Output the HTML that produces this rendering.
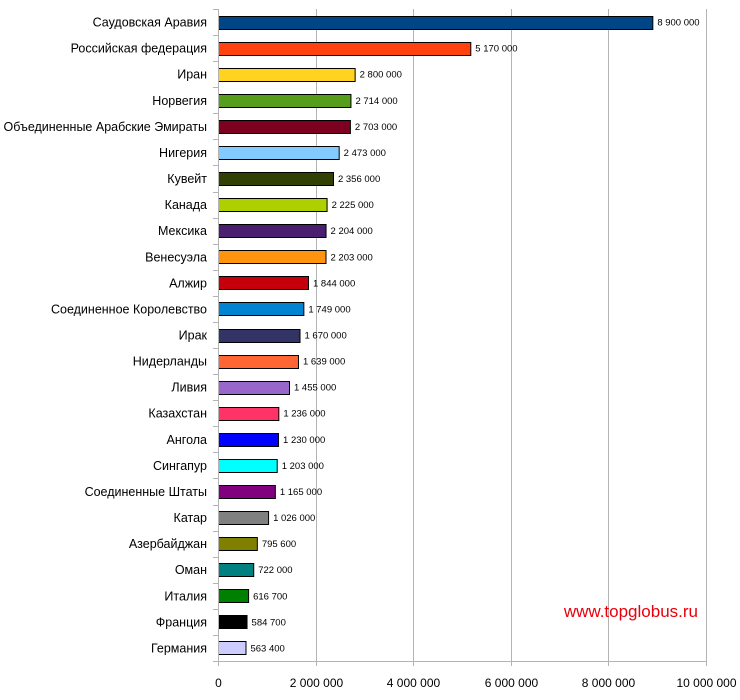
<!DOCTYPE html>
<html><head><meta charset="utf-8"><style>
body{margin:0;background:#fff}
svg{display:block;font-family:"Liberation Sans",Arial,sans-serif}
</style></head><body>
<svg id="chart" width="740" height="700" viewBox="0 0 740 700" xmlns="http://www.w3.org/2000/svg">
<g id="grid"></g>
<g id="bars"></g>
<g id="axes"></g>
<text x="698" y="617" text-anchor="end" font-size="17" fill="#e8000b">www.topglobus.ru</text>
</svg>
<script>
const categories = ["Саудовская Аравия","Российская федерация","Иран","Норвегия","Объединенные Арабские Эмираты","Нигерия","Кувейт","Канада","Мексика","Венесуэла","Алжир","Соединенное Королевство","Ирак","Нидерланды","Ливия","Казахстан","Ангола","Сингапур","Соединенные Штаты","Катар","Азербайджан","Оман","Италия","Франция","Германия"];
const values = [8900000,5170000,2800000,2714000,2703000,2473000,2356000,2225000,2204000,2203000,1844000,1749000,1670000,1639000,1455000,1236000,1230000,1203000,1165000,1026000,795600,722000,616700,584700,563400];
const valueLabels = ["8 900 000","5 170 000","2 800 000","2 714 000","2 703 000","2 473 000","2 356 000","2 225 000","2 204 000","2 203 000","1 844 000","1 749 000","1 670 000","1 639 000","1 455 000","1 236 000","1 230 000","1 203 000","1 165 000","1 026 000","795 600","722 000","616 700","584 700","563 400"];
const colors = ["#004586","#ff420e","#ffd320","#579d1c","#7e0021","#83caff","#314004","#aecf00","#4b1f6f","#ff950e","#c5000b","#0084d1","#333366","#ff6633","#9966cc","#ff3366","#0000ff","#00ffff","#800080","#808080","#808000","#008080","#008000","#000000","#ccccff"];
const ticks = [0,2000000,4000000,6000000,8000000,10000000];
const tickLabels = ["0","2 000 000","4 000 000","6 000 000","8 000 000","10 000 000"];

const NS="http://www.w3.org/2000/svg";
const X0=218, X1=706, Y0=9, Y1=661, MAXV=10000000;
const band=(Y1-Y0)/categories.length;
function xs(v){return X0+(v/MAXV)*(X1-X0);}
function yc(i){return Y0+band*(i+0.5);}
function mk(tag,attrs,parent){const e=document.createElementNS(NS,tag);for(const k in attrs)e.setAttribute(k,attrs[k]);parent.appendChild(e);return e;}
const grid=document.getElementById('grid'),bars=document.getElementById('bars'),axes=document.getElementById('axes');
ticks.forEach((t,i)=>{
  const x=Math.round(xs(t))+0.5;
  if(i>0){const l=mk('line',{x1:x,x2:x,y1:Y0,y2:Y1+5,stroke:'#b3b3b3','stroke-width':1},grid);
  
  }
  const tx=mk('text',{x:x,y:687,'text-anchor':'middle','font-size':12,fill:'#000'},axes);
  tx.textContent=tickLabels[i];
  
  
});
const ax=mk('line',{x1:X0+0.5,x2:X0+0.5,y1:Y0,y2:Y1+5,stroke:'#b3b3b3'},axes);


const bx=mk('line',{x1:X0,x2:X1,y1:Y1+0.5,y2:Y1+0.5,stroke:'#b3b3b3'},axes);


for(let i=0;i<=categories.length;i++){
  const y=Math.round(Y0+band*i)+0.5;
  const tk=mk('line',{x1:X0-5,x2:X0,y1:y,y2:y,stroke:'#b3b3b3'},axes);
  
  
}
categories.forEach((c,i)=>{
  const y=yc(i);
  const lb=mk('text',{x:207,y:y+4.5,'text-anchor':'end','font-size':12.5,fill:'#000'},axes);
  lb.textContent=c;
  
  
  const w=xs(values[i])-X0;
  const r=mk('rect',{x:X0+0.5,y:Math.round(y-6.5)+0.5,width:w,height:13,fill:colors[i],stroke:'#000','stroke-width':1},bars);
  
  
  const vl=mk('text',{x:X0+w+5,y:y+3.5,'font-size':9.5,fill:'#000'},bars);
  vl.textContent=valueLabels[i];
  
  
});
</script>
</body></html>
